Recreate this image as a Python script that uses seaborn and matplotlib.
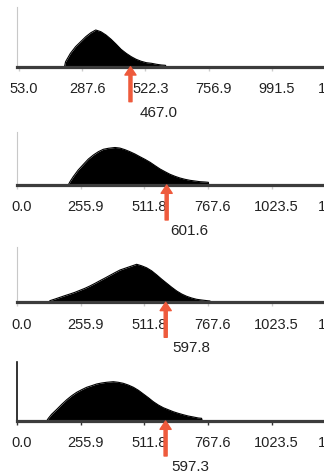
import numpy as np
import matplotlib
matplotlib.use('Agg')
import matplotlib.pyplot as plt
import matplotlib.transforms as mtransforms
from matplotlib.patches import Rectangle
import seaborn as sns

sns.set_theme(style='white')
plt.rcParams['font.family'] = ['Liberation Sans', 'DejaVu Sans']

# 读图得到的长度分布（横轴为长度，纵轴为相对高度）
LEN_1 = [222, 226, 244, 263, 282, 301, 320, 338, 357, 376, 395, 413, 432, 451, 470, 488, 507, 526, 545, 564, 582, 597, 599]
H_1 = [0, 5, 13.4, 20, 25, 30, 34, 36.7, 35, 31.7, 27.4, 22.7, 17.4, 13.4, 10, 7.4, 5.4, 4, 3.4, 2.4, 1.7, 1.4, 0]

LEN_2 = [206, 213, 226, 246, 267, 287, 307, 327, 347, 367, 394, 414, 434, 454, 474, 494, 514, 535, 555, 575,
         595, 615, 635, 655, 675, 695, 715, 736, 756, 769, 771]
H_2 = [0, 3.3, 8.3, 15, 20.7, 26, 30, 33.3, 35.7, 36.7, 37.5, 36.9, 35.3, 33.3, 31, 28.3, 25.7, 22.7, 19.3, 16,
       13.3, 10.7, 8.7, 7, 5.7, 4.7, 4, 3.3, 3, 2.7, 0]

LEN_3 = [126, 133, 153, 173, 193, 213, 233, 253, 273, 293, 314, 334, 354, 374, 394, 414, 434, 454, 481, 501,
         521, 541, 561, 582, 602, 622, 642, 662, 682, 702, 722, 742, 762, 776, 778]
H_3 = [0, 1.7, 3.3, 5, 6.7, 8.3, 10, 12, 14, 16.3, 19, 21.7, 24.3, 27, 29.7, 32.3, 34, 35.7, 38, 36.5,
       34.5, 31.5, 27.5, 23, 19, 15, 11.3, 8.3, 6, 4.3, 3, 2.3, 1.7, 1.3, 0]

LEN_4 = [119, 126, 139, 160, 180, 200, 220, 240, 260, 280, 300, 320, 340, 360, 387, 407, 427, 447, 468, 488,
         508, 528, 548, 568, 588, 608, 628, 648, 668, 688, 709, 729, 742, 744]
H_4 = [0, 2.7, 6.7, 11.7, 16.7, 21.3, 25.3, 28.7, 31.3, 33.7, 35.3, 37, 38, 38.7, 39.3, 38.7, 37.7, 36, 33.7, 30.7,
       27, 23.3, 19.3, 16, 13.3, 11.3, 9.3, 7.7, 6.3, 5, 4, 3, 2.7, 0]

TICKS_1 = [53.0, 287.6, 522.3, 756.9, 991.5, 1226.2]
TICKS_2 = [0.0, 255.9, 511.8, 767.6, 1023.5, 1279.4]
MARKERS = [467.0, 601.6, 597.8, 597.3]

series = [(LEN_1, H_1, TICKS_1), (LEN_2, H_2, TICKS_2), (LEN_3, H_3, TICKS_2), (LEN_4, H_4, TICKS_2)]

# 版面（像素）：上边、基线、右边、横轴范围、标签偏移
W, H = 327, 475
LEFT = 17
TOPS = [7, 132, 247, 362]
BASES = [66.7, 185, 302.3, 421]
RIGHTS = [341.3, 340.4, 340.4, 340.4]
XLIMS = [(45.6, 1250), (0, 1300), (0, 1300), (0, 1300)]
LABEL_DX = [28, 23, 26, 25]
ARROW_RED = '#ee5a3c'

fig = plt.figure(figsize=(W / 100, H / 100), dpi=100)
shift = mtransforms.ScaledTranslation(5 / 100, 0, fig.dpi_scale_trans)

for i, (lens, hs, ticks) in enumerate(series):
    top, base, right = TOPS[i], BASES[i], RIGHTS[i]
    ax = fig.add_axes([LEFT / W, 1 - base / H, (right - LEFT) / W, (base - top) / H])

    ax.fill_between(lens, hs, color='black', lw=0)
    sns.lineplot(x=lens, y=hs, color='black', lw=0.8, estimator=None, sort=False, ax=ax)

    ax.set_xlim(*XLIMS[i])
    ax.set_ylim(0, base - top)
    ax.set_yticks([])
    ax.set_xticks(ticks)
    ax.set_xticklabels([f'{t:.1f}' for t in ticks])

    last = i == len(series) - 1
    ax.tick_params(axis='x', length=3, width=1, pad=8, labelsize=10.5, labelcolor='#222222',
                   color='#333333' if last else '#cccccc', bottom=True)
    for lab in ax.get_xticklabels():
        lab.set_transform(lab.get_transform() + shift)

    for side in ['top', 'right']:
        ax.spines[side].set_visible(False)
    ax.spines['bottom'].set_color('#3c3c3c')
    ax.spines['bottom'].set_linewidth(2.3)
    ax.spines['left'].set_color('#111111' if last else '#c8c8c8')
    ax.spines['left'].set_linewidth(1.2 if last else 0.8)

    # 红色箭头及数值
    val = MARKERS[i]
    ax.annotate('', xy=(val, 0), xytext=(0, -35), textcoords='offset pixels',
                arrowprops=dict(width=2.2, headwidth=8, headlength=6, color=ARROW_RED, shrink=0),
                annotation_clip=False)
    ax.annotate(f'{val:.1f}', xy=(val, 0), xytext=(LABEL_DX[i], -46), textcoords='offset pixels',
                ha='center', va='center', fontsize=11, color='#222222', annotation_clip=False)

# 原图右侧被裁掉的白边
fig.add_artist(Rectangle((324 / W, 0), 3 / W, 1, transform=fig.transFigure,
                         facecolor='white', edgecolor='none', zorder=10))

fig.savefig('out.png', dpi=100)
